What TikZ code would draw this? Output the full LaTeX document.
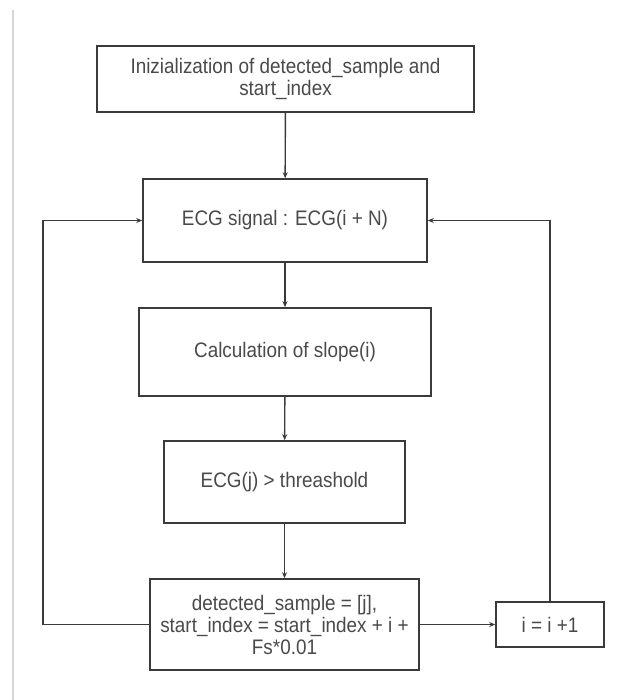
\documentclass[tikz,border=0pt]{standalone}
\usepackage{fontspec}
\setmainfont{Liberation Sans}[FakeStretch=0.9]
\usetikzlibrary{arrows.meta}
\definecolor{edge}{HTML}{3A3A3A}
\definecolor{txt}{HTML}{4A4A4A}
\definecolor{pageline}{HTML}{D6D6D6}
\tikzset{
  stepbox/.style={draw=edge, line width=1.6pt, fill=white, inner sep=0pt,
    align=center, text=txt, font=\fontsize{21}{22}\selectfont},
  flow/.style={draw=edge, line width=1.4pt,
    -{Stealth[length=6pt,width=5pt]}},
}
\begin{document}
\begin{tikzpicture}[x=1pt,y=-1pt]
\useasboundingbox (0,0) rectangle (628,700);
\fill[white] (0,0) rectangle (628,700);
% left edge of the page
\draw[pageline, line width=1.6pt] (13,10) -- (13,700);

% process steps
\node[stepbox, minimum width=377pt, minimum height=66pt] (init) at (285.5,79)
  {Inizialization of detected\_sample and\\start\_index};
\node[stepbox, minimum width=284pt, minimum height=83pt] (ecg) at (285,220.5)
  {ECG signal : ECG(i + N)};
\node[stepbox, minimum width=292pt, minimum height=88pt] (calc) at (285,352)
  {Calculation of slope(i)};
\node[stepbox, minimum width=241pt, minimum height=82pt] (thr) at (284.5,482)
  {ECG(j) > threashold};
\node[stepbox, minimum width=269pt, minimum height=91pt] (det) at (284.5,624.5)
  {detected\_sample = [j],\\start\_index = start\_index + i +\\Fs*0.01};
\node[stepbox, minimum width=108pt, minimum height=45pt] (inc) at (550,624.5)
  {i = i +1};

% main flow
\draw[flow] (init) -- (ecg);
\draw[flow] (ecg) -- (calc);
\draw[flow] (calc) -- (thr);
\draw[flow] (thr) -- (det);
\draw[flow] (det) -- (inc);

% loops back to the signal step
\draw[flow] (inc.north) |- (ecg.east);
\coordinate (lturn) at (43,624.5);
\draw[flow] (det.west) -- (lturn) |- (ecg.west);
\end{tikzpicture}
\end{document}
